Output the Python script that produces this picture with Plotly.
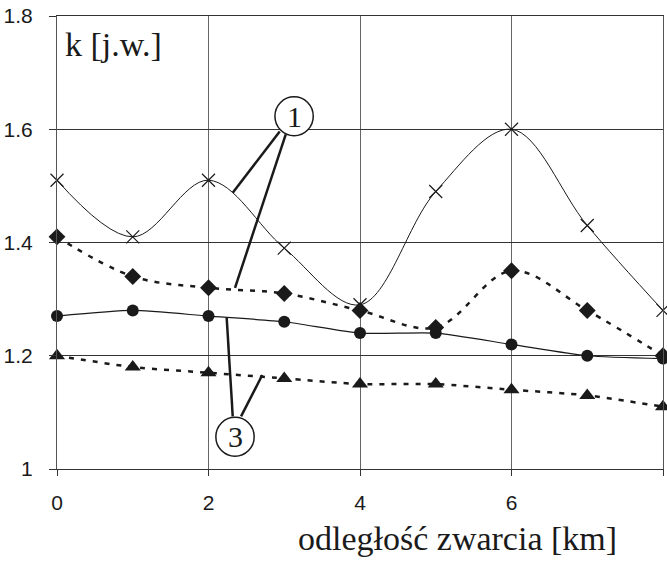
import plotly.graph_objects as go

distance_km = [0, 1, 2, 3, 4, 5, 6, 7, 8]
k_cross = [1.51, 1.41, 1.51, 1.39, 1.29, 1.49, 1.60, 1.43, 1.28]
k_diamond = [1.41, 1.34, 1.32, 1.31, 1.28, 1.25, 1.35, 1.28, 1.20]
k_circle = [1.27, 1.28, 1.27, 1.26, 1.24, 1.24, 1.22, 1.20, 1.195]
k_triangle = [1.20, 1.18, 1.17, 1.16, 1.15, 1.15, 1.14, 1.13, 1.11]

x_ticks = [0, 2, 4, 6, 8]
y_ticks = [1.0, 1.2, 1.4, 1.6, 1.8]
y_tick_labels = ["1", "1.2", "1.4", "1.6", "1.8"]

INK = "#1a1a1a"

fig = go.Figure()

fig.add_trace(go.Scatter(
    x=distance_km, y=k_cross, mode="lines+markers", cliponaxis=False,
    line=dict(color=INK, width=1, shape="spline", smoothing=1),
    marker=dict(symbol="x-thin", size=13, line=dict(color=INK, width=1.2)),
    showlegend=False))
fig.add_trace(go.Scatter(
    x=distance_km, y=k_diamond, mode="lines+markers", cliponaxis=False,
    line=dict(color=INK, width=2.5, dash="5px,7px", shape="spline", smoothing=1),
    marker=dict(symbol="diamond", size=13, color=INK),
    showlegend=False))
fig.add_trace(go.Scatter(
    x=distance_km, y=k_circle, mode="lines+markers", cliponaxis=False,
    line=dict(color=INK, width=1.2, shape="spline", smoothing=0.6),
    marker=dict(symbol="circle", size=12, color=INK),
    showlegend=False))
fig.add_trace(go.Scatter(
    x=distance_km, y=k_triangle, mode="lines+markers", cliponaxis=False,
    line=dict(color=INK, width=2.5, dash="5px,7px", shape="spline", smoothing=0.6),
    marker=dict(symbol="triangle-up", size=14, color=INK),
    showlegend=False))

# leader lines and circled labels
leaders = [
    ((2.94, 1.596), (2.32, 1.488)),
    ((3.02, 1.591), (2.35, 1.320)),
    ((2.32, 1.093), (2.24, 1.267)),
    ((2.43, 1.093), (2.71, 1.166)),
]
shapes = []
for (x0, y0), (x1, y1) in leaders:
    shapes.append(dict(type="line", xref="x", yref="y", x0=x0, y0=y0, x1=x1, y1=y1,
                       line=dict(color=INK, width=2.5)))
circles = [("1", 3.13, 1.623), ("3", 2.35, 1.057)]
rx, ry = 0.253, 0.0345
annotations = []
for label, cx, cy in circles:
    shapes.append(dict(type="circle", xref="x", yref="y",
                       x0=cx - rx, x1=cx + rx, y0=cy - ry, y1=cy + ry,
                       line=dict(color=INK, width=1.5), fillcolor="white"))
    annotations.append(dict(x=cx, y=cy, xref="x", yref="y", text=label, showarrow=False,
                            font=dict(family="Liberation Serif", size=30, color=INK),
                            xanchor="center", yanchor="middle"))

annotations.append(dict(x=0.0099, y=0.936, xref="paper", yref="paper", text="k [j.w.]",
                        showarrow=False, xanchor="left", yanchor="middle",
                        font=dict(family="Liberation Serif", size=34, color=INK)))
annotations.append(dict(x=0.661, y=-0.154, xref="paper", yref="paper",
                        text="odległość zwarcia [km]", showarrow=False,
                        xanchor="center", yanchor="middle",
                        font=dict(family="Liberation Serif", size=34, color=INK)))

fig.update_layout(
    width=667, height=566,
    margin=dict(l=57, r=4, t=16, b=97),
    paper_bgcolor="white", plot_bgcolor="white",
    shapes=shapes, annotations=annotations,
    font=dict(family="Liberation Sans", size=21, color=INK),
)
fig.update_xaxes(
    range=[0, 8], tickvals=x_ticks, ticktext=[str(v) for v in x_ticks],
    showgrid=True, gridcolor="#666", gridwidth=1,
    showline=True, linecolor="#333", linewidth=1, mirror=True,
    ticks="outside", ticklen=6, tickcolor="#333", zeroline=False,
    ticklabelstandoff=9, automargin=False,
)
fig.update_yaxes(
    range=[1, 1.8], tickvals=y_ticks, ticktext=y_tick_labels,
    showgrid=True, gridcolor="#333", gridwidth=1,
    showline=True, linecolor="#555", linewidth=1, mirror=True,
    ticks="outside", ticklen=7, tickcolor="#333", zeroline=False,
    ticklabelstandoff=12, automargin=False,
)

fig.write_html(
    "out.html",
    config={"displayModeBar": False},
    post_script="document.body.style.margin='0';document.body.style.overflow='hidden';",
)
